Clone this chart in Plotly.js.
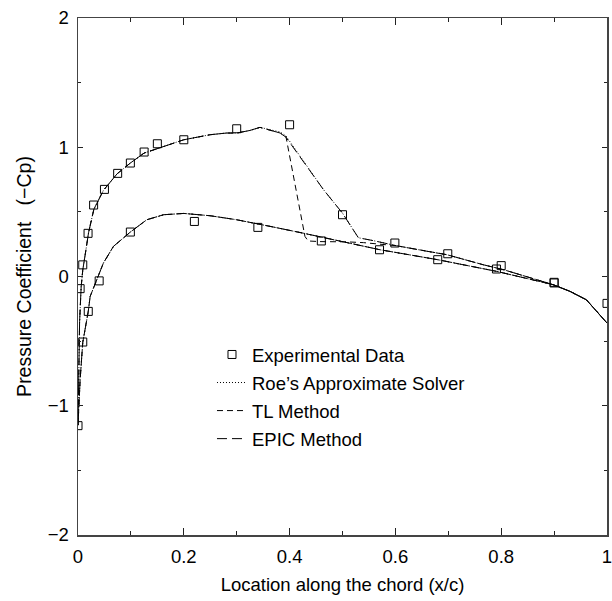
<!DOCTYPE html>
<html>
<head>
<meta charset="utf-8">
<script src="https://cdn.plot.ly/plotly-3.0.1.min.js"></script>
<style>html,body{margin:0;padding:0;background:#fff;}#chart{width:612px;height:601px;}</style>
</head>
<body>
<div id="chart"></div>
<script>
// Experimental data (upper then lower surface)
const expX = [0.0, 0.004, 0.009, 0.019, 0.0295, 0.05, 0.075, 0.099, 0.125, 0.15, 0.2, 0.3, 0.4, 0.5, 0.599, 0.699, 0.80, 0.90, 1.0,
              0.009, 0.0194, 0.04, 0.099, 0.22, 0.34, 0.46, 0.57, 0.68, 0.791, 0.90];
const expY = [-1.154, -0.094, 0.09, 0.334, 0.553, 0.674, 0.798, 0.878, 0.963, 1.027, 1.058, 1.143, 1.174, 0.478, 0.259, 0.176, 0.084, -0.05, -0.208,
              -0.507, -0.27, -0.034, 0.344, 0.426, 0.38, 0.275, 0.207, 0.13, 0.058, -0.045];

// Upper surface (leading edge -> trailing edge)
const roeUpperX  = [0, 0.001, 0.003, 0.006, 0.009, 0.014, 0.02, 0.03, 0.048, 0.074, 0.099, 0.125, 0.162, 0.2, 0.25, 0.281, 0.3, 0.325, 0.344, 0.363, 0.382, 0.393, 0.426, 0.464, 0.50, 0.524, 0.53, 0.56, 0.602, 0.671, 0.697, 0.766, 0.804, 0.898, 0.93, 0.961, 0.992, 1.0];
const roeUpperY  = [-1.15, -0.75, -0.35, -0.08, 0.05, 0.18, 0.34, 0.52, 0.666, 0.795, 0.878, 0.955, 1.007, 1.058, 1.097, 1.11, 1.11, 1.13, 1.154, 1.138, 1.118, 1.088, 0.89, 0.672, 0.49, 0.34, 0.30, 0.276, 0.238, 0.187, 0.169, 0.091, 0.053, -0.063, -0.115, -0.18, -0.321, -0.36];
const epicUpperX = [0, 0.001, 0.003, 0.006, 0.009, 0.014, 0.02, 0.03, 0.048, 0.074, 0.099, 0.125, 0.162, 0.2, 0.25, 0.281, 0.3, 0.325, 0.344, 0.363, 0.382, 0.393, 0.426, 0.464, 0.50, 0.524, 0.53, 0.56, 0.602, 0.671, 0.697, 0.766, 0.804, 0.898, 0.93, 0.961, 0.992, 1.0];
const epicUpperY = [-1.15, -0.75, -0.35, -0.08, 0.05, 0.18, 0.34, 0.52, 0.666, 0.795, 0.878, 0.955, 1.007, 1.058, 1.097, 1.11, 1.11, 1.13, 1.154, 1.13, 1.11, 1.078, 0.89, 0.672, 0.49, 0.336, 0.30, 0.276, 0.238, 0.187, 0.169, 0.091, 0.053, -0.063, -0.115, -0.18, -0.321, -0.36];
const tlUpperX   = [0, 0.001, 0.003, 0.006, 0.009, 0.014, 0.02, 0.03, 0.048, 0.074, 0.099, 0.125, 0.162, 0.2, 0.25, 0.281, 0.3, 0.325, 0.344, 0.363, 0.382, 0.393, 0.429, 0.435, 0.457, 0.508, 0.54, 0.602, 0.671, 0.697, 0.766, 0.804, 0.898, 0.93, 0.961, 0.992, 1.0];
const tlUpperY   = [-1.15, -0.75, -0.35, -0.08, 0.05, 0.18, 0.34, 0.52, 0.666, 0.795, 0.878, 0.955, 1.007, 1.058, 1.097, 1.11, 1.11, 1.13, 1.154, 1.13, 1.11, 1.084, 0.31, 0.275, 0.27, 0.268, 0.262, 0.238, 0.187, 0.169, 0.091, 0.053, -0.063, -0.115, -0.18, -0.321, -0.36];

// Lower surface (leading edge -> trailing edge)
const lowerX = [0, 0.004, 0.009, 0.0194, 0.023, 0.036, 0.048, 0.067, 0.099, 0.13, 0.162, 0.2, 0.25, 0.3, 0.363, 0.426, 0.489, 0.571, 0.68, 0.791, 0.898, 0.93, 0.961, 0.992, 1.0];
const roeLowerY  = [-1.15, -0.8, -0.51, -0.27, -0.154, -0.025, 0.104, 0.233, 0.344, 0.439, 0.478, 0.488, 0.47, 0.439, 0.388, 0.335, 0.282, 0.207, 0.13, 0.04, -0.063, -0.115, -0.18, -0.321, -0.36];
const tlLowerY   = [-1.15, -0.8, -0.51, -0.27, -0.154, -0.025, 0.104, 0.233, 0.344, 0.439, 0.478, 0.488, 0.47, 0.439, 0.388, 0.335, 0.282, 0.207, 0.13, 0.04, -0.063, -0.115, -0.18, -0.321, -0.36];
const epicLowerY = [-1.15, -0.8, -0.51, -0.27, -0.154, -0.025, 0.104, 0.233, 0.344, 0.439, 0.478, 0.488, 0.47, 0.439, 0.388, 0.335, 0.282, 0.207, 0.13, 0.04, -0.063, -0.115, -0.18, -0.321, -0.36];

const names = ["Experimental Data", "Roe\u2019s Approximate Solver", "TL Method", "EPIC Method"];
const xTickVals = [0, 0.2, 0.4, 0.6, 0.8, 1];
const xTickText = ["0", "0.2", "0.4", "0.6", "0.8", "1"];
const yTickVals = [-2, -1, 0, 1, 2];
const yTickText = ["\u22122", "\u22121", "0", "1", "2"];

function loop(ux, uy, lx, ly) {
  return { x: ux.concat(lx.slice().reverse()), y: uy.concat(ly.slice().reverse()) };
}
const roe = loop(roeUpperX, roeUpperY, lowerX, roeLowerY);
const tl = loop(tlUpperX, tlUpperY, lowerX, tlLowerY);
const epic = loop(epicUpperX, epicUpperY, lowerX, epicLowerY);

const FONT = "Liberation Sans, Arial, Helvetica, sans-serif";
const traces = [
  { x: expX, y: expY, name: names[0], mode: "markers", type: "scatter", legendgroup: "a",
    marker: { symbol: "square-open", size: 8, color: "#000", line: { width: 1, color: "#000" } } },
  { x: roe.x, y: roe.y, name: names[1], mode: "lines", type: "scatter", legendgroup: "b",
    line: { color: "#000", width: 1, dash: "1px,2px" } },
  { x: tl.x, y: tl.y, name: names[2], mode: "lines", type: "scatter", legendgroup: "c",
    line: { color: "#000", width: 1, dash: "6px,4px" } },
  { x: epic.x, y: epic.y, name: names[3], mode: "lines", type: "scatter", legendgroup: "d",
    line: { color: "#000", width: 1, dash: "10px,5px" } }
];

const axisCommon = {
  showgrid: false, zeroline: false, showline: true, linecolor: "#444", linewidth: 1.5,
  mirror: "ticks", ticks: "inside", tickcolor: "#222", tickwidth: 1,
  ticklabeloverflow: "allow", ticklabelstandoff: 4,
  tickfont: { family: FONT, size: 18.5, color: "#000" }
};
const layout = {
  width: 612, height: 601,
  margin: { l: 78, r: 5, t: 18, b: 66 },
  paper_bgcolor: "#fff", plot_bgcolor: "#fff",
  font: { family: FONT, size: 18, color: "#000" },
  showlegend: true,
  legend: {
    x: 0.2533, y: 0.385, xanchor: "left", yanchor: "top",
    bgcolor: "rgba(0,0,0,0)", borderwidth: 0,
    traceorder: "grouped", tracegroupgap: 1,
    font: { family: FONT, size: 18.5, color: "#000" }
  },
  xaxis: Object.assign({}, axisCommon, {
    range: [0, 1], tickvals: xTickVals, ticktext: xTickText, ticklen: 7,
    minor: { dtick: 0.1, ticks: "inside", ticklen: 4, tickcolor: "#222", showgrid: false },
    title: { text: "Location along the chord (x/c)", font: { family: FONT, size: 18.5, color: "#000" }, standoff: 12 }
  }),
  yaxis: Object.assign({}, axisCommon, {
    range: [-2, 2], tickvals: yTickVals, ticktext: yTickText, ticklen: 5,
    minor: { dtick: 0.5, ticks: "inside", ticklen: 3, tickcolor: "#222", showgrid: false },
    title: { text: "Pressure Coefficient\u00a0\u00a0\u00a0(\u2212Cp)", font: { family: FONT, size: 19.5, color: "#000" }, standoff: 11 }
  })
};
Plotly.newPlot("chart", traces, layout, { staticPlot: true, displayModeBar: false });
</script>
</body>
</html>
